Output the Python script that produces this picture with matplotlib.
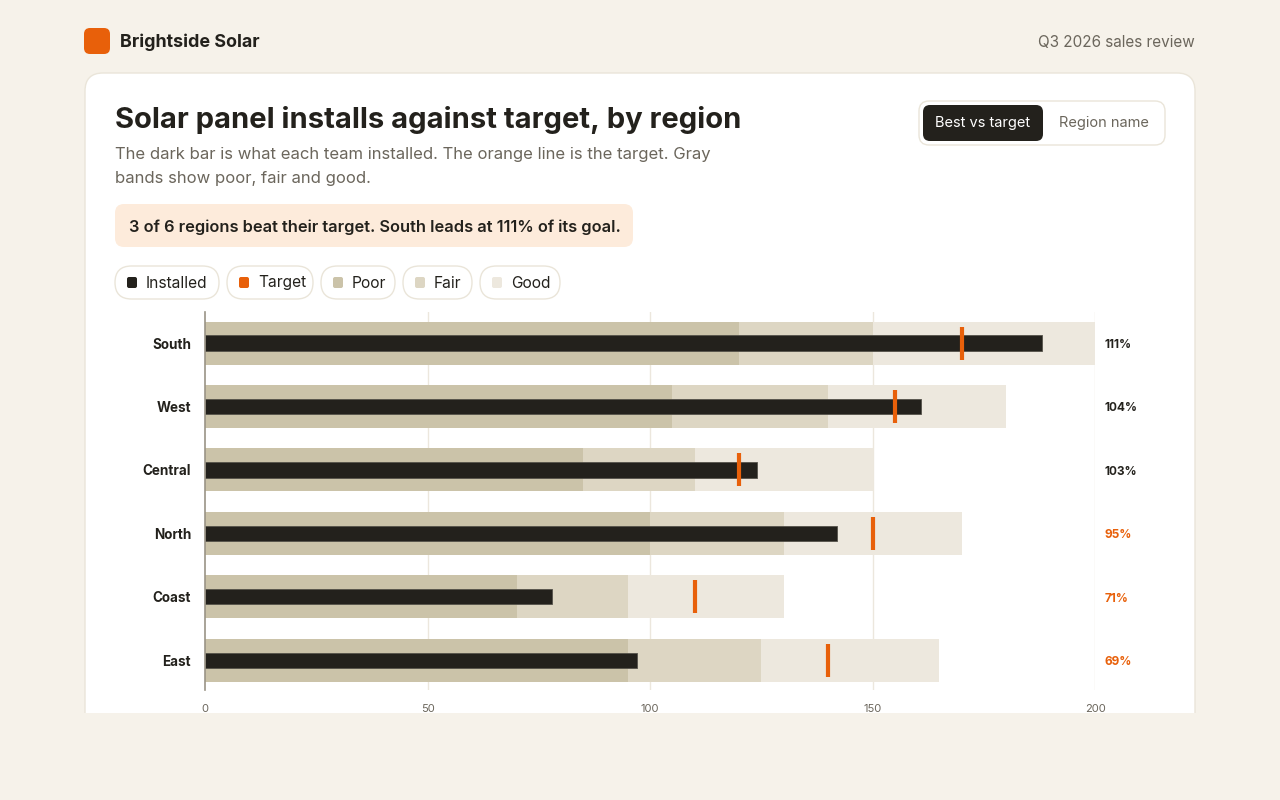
import matplotlib
matplotlib.use("Agg")
import matplotlib.pyplot as plt
from matplotlib.patches import FancyBboxPatch, Rectangle

# data
regions = ["South", "West", "Central", "North", "Coast", "East"]
installed = [188, 161, 124, 142, 78, 97]
target = [170, 155, 120, 150, 110, 140]
poor_end = [120, 105, 85, 100, 70, 95]
fair_end = [150, 140, 110, 130, 95, 125]
good_end = [200, 180, 150, 170, 130, 165]
x_ticks = [0, 50, 100, 150, 200]
legend_items = ["Installed", "Target", "Poor", "Fair", "Good"]

BG = "#F6F2EA"
DARK = "#23211C"
ORANGE = "#E8600A"
POOR = "#CBC3A9"
FAIR = "#DDD6C3"
GOOD = "#EDE8DE"
MUTED = "#6B665C"
BORDER = "#EAE5D9"

plt.rcParams['font.family'] = ['Inter', 'DejaVu Sans']

W, H = 1280, 800
fig = plt.figure(figsize=(W / 100, H / 100), dpi=100)
fig.patch.set_facecolor(BG)

# pixel-space layer for the page furniture
bg = fig.add_axes([0, 0, 1, 1])
bg.set_xlim(0, W)
bg.set_ylim(H, 0)
bg.axis("off")
bg.set_zorder(0)


def box(x0, y0, x1, y1, r, fc, ec="none", lw=1.0, z=1):
    bg.add_patch(FancyBboxPatch((x0, y0), x1 - x0, y1 - y0,
                                boxstyle=f"round,pad=0,rounding_size={r}",
                                fc=fc, ec=ec, lw=lw, zorder=z))


def txt(x, y, s, size, color=DARK, weight="normal", ha="left"):
    bg.text(x, y, s, fontsize=size, color=color, fontweight=weight,
            ha=ha, va="center_baseline", zorder=10)


# header
box(84, 28, 110, 54, 6, ORANGE)
txt(120, 40.5, "Brightside Solar", 12.9, DARK, "bold")
txt(1195, 40.5, "Q3 2026 sales review", 11, MUTED, ha="right")

# card (clipped at bottom)
box(85, 73, 1195, 760, 18, "white", BORDER, 1.0, z=0)
bg.add_patch(Rectangle((0, 713), W, H - 713, fc=BG, ec="none", zorder=0.5))

# title block
txt(115, 117.5, "Solar panel installs against target, by region", 21, DARK, "bold")
txt(115, 153.5, "The dark bar is what each team installed. The orange line is the target. Gray", 12, MUTED)
txt(115, 177.5, "bands show poor, fair and good.", 12, MUTED)

box(115, 204, 633, 247, 9, "#FDEBDB")
txt(129, 225.5, "3 of 6 regions beat their target. South leads at 111% of its goal.", 11.8, DARK, "semibold")

# toggle
box(919, 101, 1165, 145, 10, "white", BORDER, 1.0, z=2)
box(923, 105, 1043, 141, 7, DARK, z=3)
txt(983, 122, "Best vs target", 10.5, "white", ha="center")
txt(1104, 122, "Region name", 10.5, MUTED, ha="center")

# legend pills
pill_x = [(115, 219), (227, 313), (321, 395), (403, 472), (480, 560)]
pill_c = [DARK, ORANGE, POOR, FAIR, GOOD]
for (x0, x1), lab, c in zip(pill_x, legend_items, pill_c):
    box(x0, 266, x1, 299, 16.5, "white", BORDER, 1.0, z=2)
    box(x0 + 12, 277, x0 + 22, 288, 2, c, z=3)
    txt(x0 + 31, 281.5, lab, 11.2, DARK)

# bullet chart
ax = fig.add_axes([205 / W, 1 - 690 / H, (1095 - 205) / W, (690 - 312) / H])
ax.set_zorder(5)
ax.set_facecolor("none")
ax.set_xlim(0, 200)
ax.set_ylim(5.47, -0.49)
rows = list(range(len(regions)))
bh = 0.68
ax.barh(rows, good_end, height=bh, color=GOOD, zorder=2)
ax.barh(rows, fair_end, height=bh, color=FAIR, zorder=3)
ax.barh(rows, poor_end, height=bh, color=POOR, zorder=4)
ax.barh(rows, installed, height=0.24, color=DARK, edgecolor="#55524a", lw=0.6, zorder=5)
ax.vlines(target, [r - 0.26 for r in rows], [r + 0.26 for r in rows],
          color=ORANGE, lw=3.0, zorder=6)

for t in x_ticks[1:]:
    ax.axvline(t, color="#ECE7DD", lw=1, zorder=1)
for s in ["top", "right", "bottom"]:
    ax.spines[s].set_visible(False)
ax.spines["left"].set_color("#9A9486")
ax.spines["left"].set_linewidth(1.2)
ax.spines["left"].set_zorder(7)

ax.set_xticks(x_ticks)
ax.set_xticklabels([str(t) for t in x_ticks], fontsize=8, color=MUTED)
ax.tick_params(axis="x", length=0, pad=10)
ax.set_yticks(rows)
ax.set_yticklabels(regions, fontsize=9.7, fontweight="bold", color=DARK)
ax.tick_params(axis="y", length=0, pad=10)

for r, a, t in zip(rows, installed, target):
    pct = round(a / t * 100)
    col = DARK if pct >= 100 else ORANGE
    ax.text(202.2, r + 0.03, f"{pct}%", fontsize=8.5, fontweight="bold", color=col,
            va="center", ha="left")

fig.savefig("out.png", dpi=100, facecolor=BG)
